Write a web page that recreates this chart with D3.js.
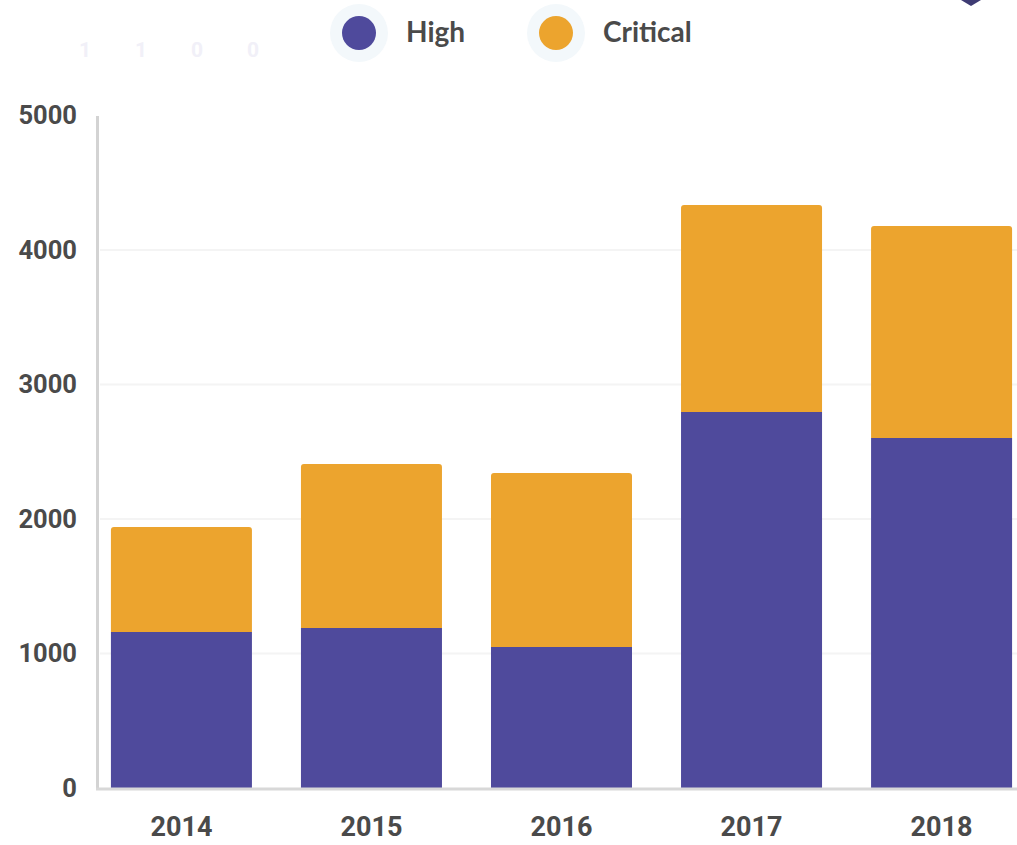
<!DOCTYPE html>
<html>
<head>
<meta charset="utf-8"/>
<script src="https://d3js.org/d3.v7.min.js"></script>
<style>
body { margin: 0; background: #fff; overflow: hidden; }
.tick text { font-family: Roboto, sans-serif; font-weight: 700; fill: #4a4a4a; }
</style>
</head>
<body>
<svg id="svg" width="1017" height="845"></svg>
<script>
// data
var years = ["2014", "2015", "2016", "2017", "2018"];
var high = [1160, 1190, 1048, 2796, 2602];
var critical = [780, 1219, 1294, 1539, 1576];
var seriesNames = ["High", "Critical"];
var seriesColors = ["#4f4a9c", "#eca42e"];
var yTicks = [0, 1000, 2000, 3000, 4000, 5000];
var fadedDigits = ["1", "1", "0", "0"];

var svg = d3.select("#svg");

var rows = years.map(function(y, i) { return { year: y, High: high[i], Critical: critical[i] }; });
var stacked = d3.stack().keys(seriesNames)(rows);

var x = d3.scaleBand()
    .domain(years)
    .range([98, 1025])
    .paddingInner(0.258)
    .paddingOuter(0.068);

var y = d3.scaleLinear().domain([0, 5000]).range([788, 115.5]);

// grid lines
svg.append("g")
  .selectAll("line")
  .data(yTicks.filter(function(d) { return d > 0 && d < 5000; }))
  .enter().append("line")
    .attr("x1", 100).attr("x2", 1017)
    .attr("y1", function(d) { return y(d); })
    .attr("y2", function(d) { return y(d); })
    .attr("stroke", "#f4f4f4")
    .attr("stroke-width", 2);

// bars
var layers = svg.append("g").selectAll("g")
  .data(stacked)
  .enter().append("g")
    .attr("fill", function(d, i) { return seriesColors[i]; });

layers.selectAll("path")
  .data(function(d) { return d.map(function(p) { return { p: p, top: d.key === "Critical" }; }); })
  .enter().append("path")
    .attr("d", function(d) {
      var x0 = x(d.p.data.year), w = x.bandwidth();
      var y0 = y(d.p[0]), y1 = y(d.p[1]);
      var r = d.top ? 3 : 0;
      return "M" + x0 + "," + y0 +
        "V" + (y1 + r) +
        "Q" + x0 + "," + y1 + " " + (x0 + r) + "," + y1 +
        "H" + (x0 + w - r) +
        "Q" + (x0 + w) + "," + y1 + " " + (x0 + w) + "," + (y1 + r) +
        "V" + y0 + "Z";
    });

// y axis
var yAxisG = svg.append("g")
  .attr("transform", "translate(97,0)")
  .call(d3.axisLeft(y).tickValues(yTicks).tickSize(0).tickPadding(20).tickFormat(d3.format("d")));
yAxisG.select(".domain").attr("stroke", "#d3d3d3").attr("stroke-width", 3);
yAxisG.selectAll(".tick text").style("font-size", "25.5px");

// x axis
var xAxisG = svg.append("g")
  .attr("transform", "translate(0,789)")
  .call(d3.axisBottom(x).tickSize(0).tickPadding(28));
xAxisG.select(".domain").attr("d", "M96,0H1017").attr("stroke", "#d8d8d8").attr("stroke-width", 3);
xAxisG.selectAll(".tick text").style("font-size", "27px");

// legend
var legend = svg.append("g").selectAll("g")
  .data(seriesNames)
  .enter().append("g")
    .attr("transform", function(d, i) { return "translate(" + (359 + i * 197) + ",33)"; });
legend.append("circle").attr("r", 29).attr("fill", "#f3f8fb");
legend.append("circle").attr("r", 17).attr("fill", function(d, i) { return seriesColors[i]; });
legend.append("text")
    .attr("x", 47).attr("y", 9)
    .style("font-family", "Lato, 'Open Sans', sans-serif")
    .style("font-weight", 700)
    .style("font-size", "28px")
    .style("fill", "#4a4a4a")
    .text(function(d) { return d; });

// faded counter digits top-left
svg.append("g").selectAll("text")
  .data(fadedDigits)
  .enter().append("text")
    .attr("x", function(d, i) { return 85 + i * 56; })
    .attr("y", 57)
    .attr("text-anchor", "middle")
    .style("font-family", "Roboto, sans-serif")
    .style("font-weight", 700)
    .style("font-size", "21px")
    .style("fill", "#f1f0f8")
    .text(function(d) { return d; });

// marker tip at top right
svg.append("path")
  .attr("d", "M961,0L971,6L981,0Z")
  .attr("fill", "#3e3b73");
</script>
</body>
</html>
